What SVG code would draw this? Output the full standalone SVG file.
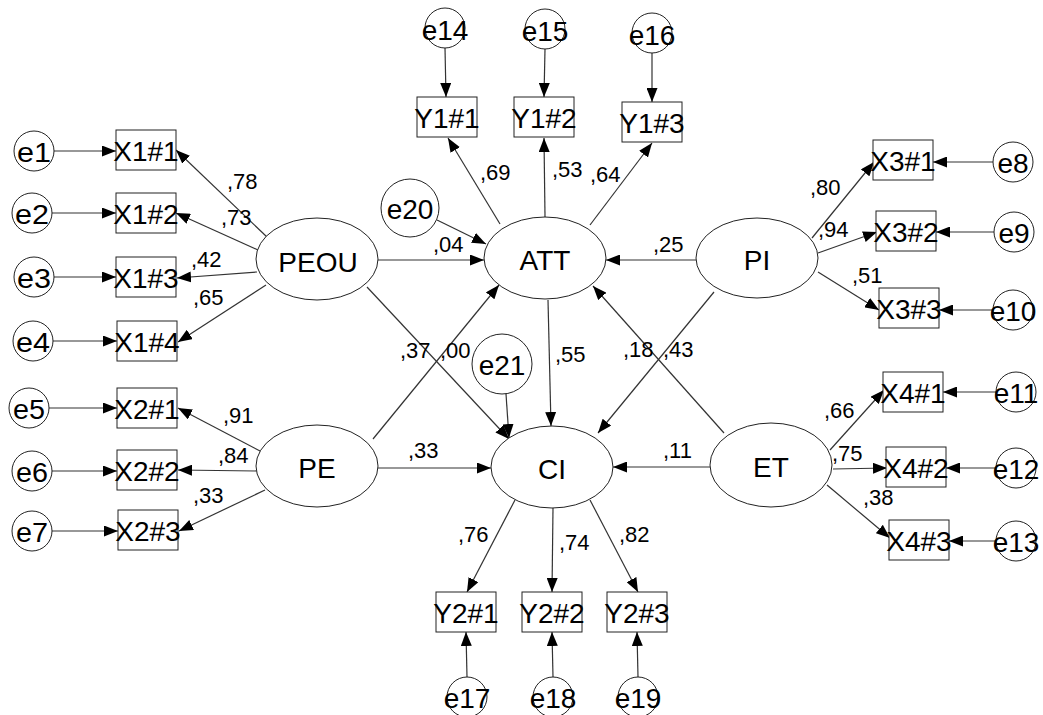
<svg xmlns="http://www.w3.org/2000/svg" width="1043" height="715" viewBox="0 0 1043 715">
<style>
.n{fill:#fff;stroke:#222;stroke-width:1}
.t{font-family:"Liberation Sans",Arial,sans-serif;font-size:28px;fill:#000;text-anchor:middle}
.l{font-family:"Liberation Sans",Arial,sans-serif;font-size:22px;fill:#000}
.c line{stroke:#333;stroke-width:1.2;marker-end:url(#a)}
</style>
<defs>
<marker id="a" viewBox="0 0 14 11" markerWidth="14" markerHeight="11" refX="14" refY="5.5" orient="auto" markerUnits="userSpaceOnUse">
<path d="M0,0 L14,5.5 L0,11 z" fill="#000"/>
</marker>
</defs>
<rect width="1043" height="715" fill="#fff"/>
<g class="c" id="connectors">
<line x1="54" y1="151" x2="116" y2="151"/>
<line x1="52" y1="213" x2="116" y2="213"/>
<line x1="54" y1="277" x2="116" y2="277"/>
<line x1="53" y1="341" x2="117" y2="341"/>
<line x1="49" y1="408" x2="117" y2="408"/>
<line x1="52" y1="471" x2="117" y2="471"/>
<line x1="52" y1="531" x2="118" y2="531"/>
<line x1="993" y1="162" x2="933" y2="162"/>
<line x1="994" y1="232" x2="936" y2="232"/>
<line x1="993" y1="310" x2="939" y2="310"/>
<line x1="996" y1="392" x2="943" y2="392"/>
<line x1="996" y1="468" x2="946" y2="468"/>
<line x1="996" y1="541" x2="949" y2="541"/>
<line x1="445" y1="48" x2="446" y2="97"/>
<line x1="545" y1="49" x2="544" y2="97"/>
<line x1="652" y1="53" x2="652" y2="102"/>
<line x1="467" y1="677" x2="466" y2="632"/>
<line x1="553" y1="677" x2="552" y2="632"/>
<line x1="638" y1="677" x2="637" y2="632"/>
<line x1="437" y1="220" x2="486" y2="244"/>
<line x1="506" y1="394" x2="509" y2="438"/>
<line x1="267" y1="237" x2="176" y2="150"/>
<line x1="258" y1="250" x2="176" y2="213"/>
<line x1="257" y1="272" x2="177" y2="278"/>
<line x1="266" y1="285" x2="178" y2="342"/>
<line x1="262" y1="452" x2="178" y2="408"/>
<line x1="257" y1="471" x2="178" y2="470"/>
<line x1="265" y1="490" x2="179" y2="531"/>
<line x1="500" y1="224" x2="448" y2="138"/>
<line x1="545" y1="217" x2="544" y2="138"/>
<line x1="590" y1="225" x2="652" y2="143"/>
<line x1="812" y1="238" x2="874" y2="162"/>
<line x1="818" y1="253" x2="877" y2="232"/>
<line x1="818" y1="272" x2="879" y2="310"/>
<line x1="830" y1="450" x2="884" y2="390"/>
<line x1="833" y1="469" x2="887" y2="468"/>
<line x1="827" y1="485" x2="890" y2="538"/>
<line x1="515" y1="500" x2="467" y2="592"/>
<line x1="553" y1="508" x2="552" y2="592"/>
<line x1="590" y1="500" x2="638" y2="592"/>
<line x1="378" y1="260" x2="484" y2="260"/>
<line x1="696" y1="260" x2="606" y2="260"/>
<line x1="378" y1="468" x2="491" y2="468"/>
<line x1="710" y1="467" x2="613" y2="467"/>
<line x1="548" y1="300" x2="551" y2="426"/>
<line x1="367" y1="287" x2="509" y2="439"/>
<line x1="373" y1="439" x2="499" y2="285"/>
<line x1="714" y1="292" x2="598" y2="433"/>
<line x1="724" y1="433" x2="593" y2="286"/>
</g>
<g id="labels">
<text class="l" x="227" y="189">,78</text>
<text class="l" x="221" y="225">,73</text>
<text class="l" x="191" y="267">,42</text>
<text class="l" x="193" y="305">,65</text>
<text class="l" x="223" y="423">,91</text>
<text class="l" x="218" y="463">,84</text>
<text class="l" x="193" y="503">,33</text>
<text class="l" x="480" y="180">,69</text>
<text class="l" x="552" y="177">,53</text>
<text class="l" x="590" y="182">,64</text>
<text class="l" x="810" y="195">,80</text>
<text class="l" x="818" y="237">,94</text>
<text class="l" x="852" y="283">,51</text>
<text class="l" x="824" y="418">,66</text>
<text class="l" x="832" y="461">,75</text>
<text class="l" x="863" y="505">,38</text>
<text class="l" x="458" y="542">,76</text>
<text class="l" x="559" y="550">,74</text>
<text class="l" x="619" y="542">,82</text>
<text class="l" x="433" y="252">,04</text>
<text class="l" x="653" y="252">,25</text>
<text class="l" x="400" y="358">,37</text>
<text class="l" x="440" y="358">,00</text>
<text class="l" x="555" y="362">,55</text>
<text class="l" x="623" y="357">,18</text>
<text class="l" x="663" y="357">,43</text>
<text class="l" x="408" y="458">,33</text>
<text class="l" x="663" y="458">,11</text>
</g>
<g id="PEOU"><ellipse class="n" cx="317" cy="259" rx="61" ry="41"/><text class="t" x="318" y="272">PEOU</text></g>
<g id="ATT"><ellipse class="n" cx="545" cy="258" rx="61" ry="41"/><text class="t" x="545" y="270">ATT</text></g>
<g id="PI"><ellipse class="n" cx="757" cy="258" rx="61" ry="40"/><text class="t" x="757" y="270">PI</text></g>
<g id="PE"><ellipse class="n" cx="317" cy="466" rx="61" ry="41"/><text class="t" x="317" y="478">PE</text></g>
<g id="CI"><ellipse class="n" cx="552" cy="467" rx="61" ry="41"/><text class="t" x="552" y="479">CI</text></g>
<g id="ET"><ellipse class="n" cx="771" cy="465" rx="61" ry="42"/><text class="t" x="771" y="477">ET</text></g>
<g id="X1_1"><rect class="n" x="116" y="130" width="60" height="40"/><text class="t" x="146" y="161">X1#1</text></g>
<g id="X1_2"><rect class="n" x="116" y="193" width="60" height="40"/><text class="t" x="146" y="224">X1#2</text></g>
<g id="X1_3"><rect class="n" x="116" y="257" width="60" height="40"/><text class="t" x="146" y="288">X1#3</text></g>
<g id="X1_4"><rect class="n" x="117" y="321" width="60" height="40"/><text class="t" x="147" y="352">X1#4</text></g>
<g id="X2_1"><rect class="n" x="117" y="388" width="60" height="40"/><text class="t" x="147" y="419">X2#1</text></g>
<g id="X2_2"><rect class="n" x="117" y="450" width="60" height="40"/><text class="t" x="147" y="481">X2#2</text></g>
<g id="X2_3"><rect class="n" x="118" y="510" width="60" height="40"/><text class="t" x="148" y="541">X2#3</text></g>
<g id="Y1_1"><rect class="n" x="417" y="97" width="60" height="40"/><text class="t" x="447" y="128">Y1#1</text></g>
<g id="Y1_2"><rect class="n" x="514" y="97" width="60" height="40"/><text class="t" x="544" y="128">Y1#2</text></g>
<g id="Y1_3"><rect class="n" x="622" y="102" width="60" height="40"/><text class="t" x="652" y="133">Y1#3</text></g>
<g id="X3_1"><rect class="n" x="873" y="140" width="60" height="40"/><text class="t" x="903" y="171">X3#1</text></g>
<g id="X3_2"><rect class="n" x="876" y="211" width="60" height="40"/><text class="t" x="906" y="242">X3#2</text></g>
<g id="X3_3"><rect class="n" x="879" y="288" width="60" height="40"/><text class="t" x="909" y="319">X3#3</text></g>
<g id="X4_1"><rect class="n" x="883" y="372" width="60" height="40"/><text class="t" x="913" y="403">X4#1</text></g>
<g id="X4_2"><rect class="n" x="886" y="447" width="60" height="40"/><text class="t" x="916" y="478">X4#2</text></g>
<g id="X4_3"><rect class="n" x="889" y="520" width="60" height="40"/><text class="t" x="919" y="551">X4#3</text></g>
<g id="Y2_1"><rect class="n" x="436" y="592" width="60" height="40"/><text class="t" x="466" y="623">Y2#1</text></g>
<g id="Y2_2"><rect class="n" x="522" y="592" width="60" height="40"/><text class="t" x="552" y="623">Y2#2</text></g>
<g id="Y2_3"><rect class="n" x="607" y="592" width="60" height="40"/><text class="t" x="637" y="623">Y2#3</text></g>
<g id="e1"><circle class="n" cx="34" cy="151" r="20"/><text class="t" x="34" y="162" textLength="34" lengthAdjust="spacingAndGlyphs">e1</text></g>
<g id="e2"><circle class="n" cx="32" cy="213" r="20"/><text class="t" x="32" y="224" textLength="34" lengthAdjust="spacingAndGlyphs">e2</text></g>
<g id="e3"><circle class="n" cx="34" cy="277" r="20"/><text class="t" x="34" y="288" textLength="34" lengthAdjust="spacingAndGlyphs">e3</text></g>
<g id="e4"><circle class="n" cx="33" cy="341" r="20"/><text class="t" x="33" y="352" textLength="34" lengthAdjust="spacingAndGlyphs">e4</text></g>
<g id="e5"><circle class="n" cx="29" cy="408" r="20"/><text class="t" x="29" y="419" textLength="32" lengthAdjust="spacingAndGlyphs">e5</text></g>
<g id="e6"><circle class="n" cx="32" cy="471" r="20"/><text class="t" x="32" y="482" textLength="32" lengthAdjust="spacingAndGlyphs">e6</text></g>
<g id="e7"><circle class="n" cx="32" cy="531" r="20"/><text class="t" x="32" y="542" textLength="32" lengthAdjust="spacingAndGlyphs">e7</text></g>
<g id="e8"><circle class="n" cx="1013" cy="162" r="20"/><text class="t" x="1013" y="173">e8</text></g>
<g id="e9"><circle class="n" cx="1014" cy="232" r="20"/><text class="t" x="1014" y="243">e9</text></g>
<g id="e10"><circle class="n" cx="1013" cy="310" r="20"/><text class="t" x="1013" y="321">e10</text></g>
<g id="e11"><circle class="n" cx="1016" cy="392" r="20"/><text class="t" x="1016" y="403">e11</text></g>
<g id="e12"><circle class="n" cx="1016" cy="468" r="20"/><text class="t" x="1016" y="479">e12</text></g>
<g id="e13"><circle class="n" cx="1016" cy="541" r="20"/><text class="t" x="1016" y="552">e13</text></g>
<g id="e14"><circle class="n" cx="445" cy="28" r="20"/><text class="t" x="445" y="40">e14</text></g>
<g id="e15"><circle class="n" cx="545" cy="29" r="20"/><text class="t" x="545" y="41">e15</text></g>
<g id="e16"><circle class="n" cx="652" cy="33" r="20"/><text class="t" x="652" y="45">e16</text></g>
<g id="e17"><circle class="n" cx="467" cy="697" r="20"/><text class="t" x="467" y="708">e17</text></g>
<g id="e18"><circle class="n" cx="553" cy="697" r="20"/><text class="t" x="553" y="708">e18</text></g>
<g id="e19"><circle class="n" cx="638" cy="697" r="20"/><text class="t" x="638" y="708">e19</text></g>
<g id="e20"><circle class="n" cx="410" cy="208" r="29"/><text class="t" x="410" y="219">e20</text></g>
<g id="e21"><circle class="n" cx="502" cy="364" r="30"/><text class="t" x="502" y="375">e21</text></g>
</svg>
